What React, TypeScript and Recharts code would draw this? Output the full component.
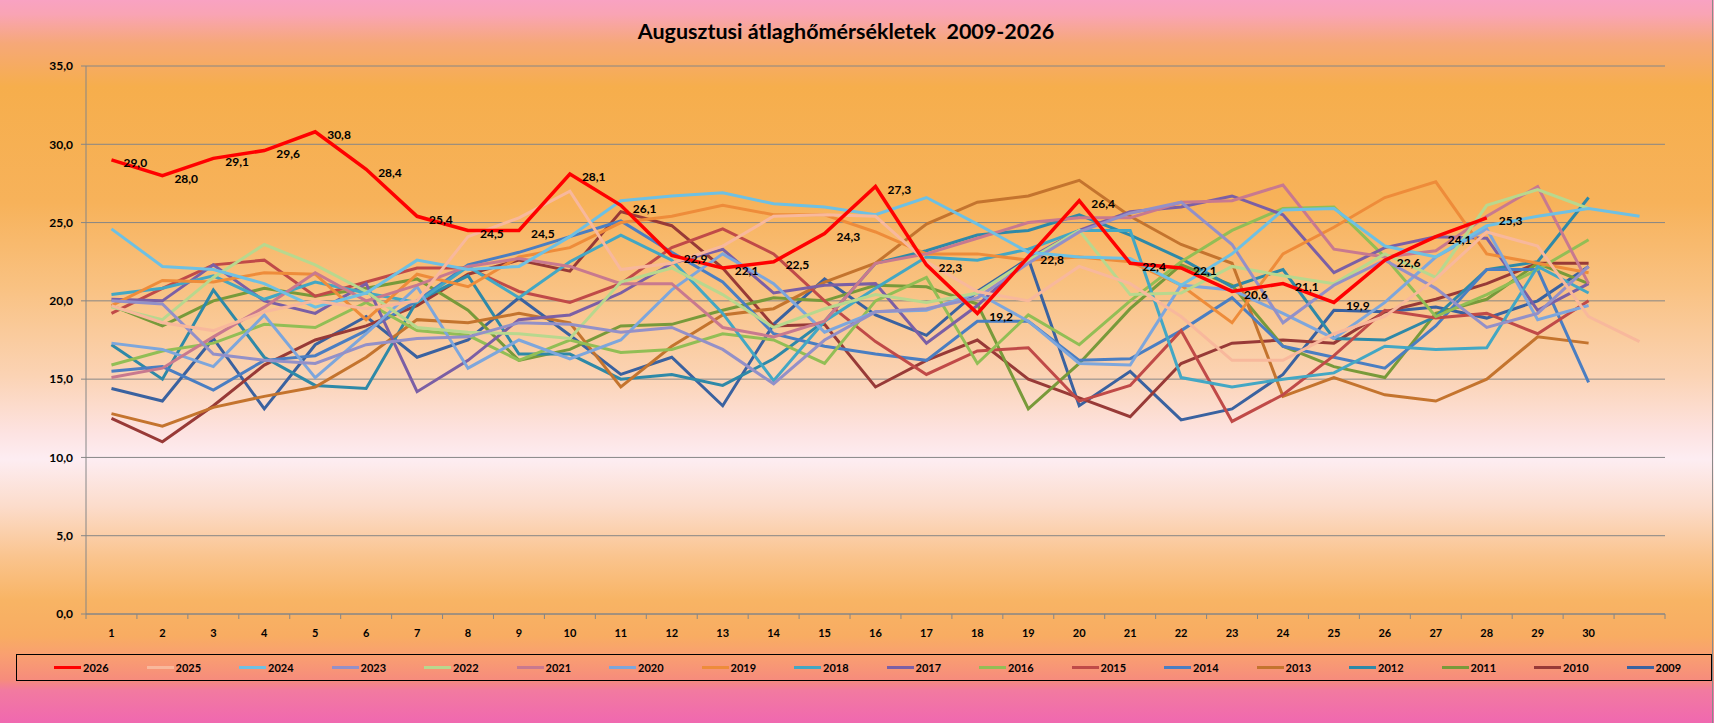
import { LineChart, Line, XAxis, YAxis, CartesianGrid, Legend, LabelList } from 'recharts';

// day labels (31st category has no label in the original)
const days = ['1', '2', '3', '4', '5', '6', '7', '8', '9', '10', '11', '12', '13', '14', '15', '16', '17', '18', '19', '20', '21', '22', '23', '24', '25', '26', '27', '28', '29', '30', ''];
const yTicks = [0, 5, 10, 15, 20, 25, 30, 35];

const t2026 = [29.0, 28.0, 29.1, 29.6, 30.8, 28.4, 25.4, 24.5, 24.5, 28.1, 26.1, 22.9, 22.1, 22.5, 24.3, 27.3, 22.3, 19.2, 22.8, 26.4, 22.4, 22.1, 20.6, 21.1, 19.9, 22.6, 24.1, 25.3];
const t2025 = [19.7, 18.6, 18.1, 19.3, 20.0, 19.5, 20.0, 24.1, 25.3, 27.0, 22.0, 22.4, 23.5, 25.4, 25.5, 25.4, 22.5, 20.6, 20.0, 22.2, 21.1, 19.0, 16.2, 16.2, 17.9, 19.0, 21.4, 24.4, 23.5, 19.0, 17.4];
const t2024 = [24.6, 22.2, 22.0, 21.1, 19.6, 20.5, 22.6, 22.0, 22.2, 24.1, 26.4, 26.7, 26.9, 26.2, 26.0, 25.5, 26.6, 24.9, 23.1, 22.8, 22.7, 21.0, 23.0, 25.8, 25.9, 23.5, 22.8, 24.8, 25.4, 25.9, 25.4];
const t2023 = [20.0, 19.8, 16.6, 16.2, 16.0, 17.2, 17.6, 17.7, 18.6, 18.5, 18.0, 18.3, 16.9, 14.7, 17.5, 19.3, 19.5, 20.2, 22.4, 24.4, 25.6, 26.3, 23.6, 18.6, 21.0, 22.6, 20.8, 18.3, 19.2, 22.2];
const t2022 = [19.6, 18.8, 21.5, 23.6, 22.3, 20.6, 18.3, 18.0, 17.9, 17.6, 21.2, 22.1, 20.4, 18.3, 19.5, 20.4, 19.9, 20.5, 22.6, 24.5, 20.4, 20.5, 22.2, 21.6, 21.1, 23.0, 21.5, 26.1, 27.1, 25.9];
const t2021 = [15.1, 15.7, 17.7, 19.6, 21.8, 20.0, 21.0, 22.2, 22.7, 22.2, 21.1, 21.1, 18.3, 17.7, 18.7, 22.4, 23.0, 24.0, 25.0, 25.3, 25.3, 26.3, 26.4, 27.4, 23.3, 22.8, 23.2, 25.4, 27.3, 21.1];
const t2020 = [17.3, 16.9, 15.8, 19.1, 15.1, 17.9, 20.9, 15.7, 17.5, 16.3, 17.5, 20.7, 23.0, 21.1, 18.0, 19.3, 19.4, 20.5, 18.7, 16.0, 15.9, 21.0, 20.7, 19.2, 17.6, 19.9, 22.8, 24.6, 18.8, 19.7];
const t2019 = [19.7, 21.3, 21.2, 21.8, 21.7, 18.8, 21.7, 20.9, 22.8, 23.4, 25.0, 25.4, 26.1, 25.5, 25.5, 24.4, 23.0, 23.0, 22.6, 22.8, 22.5, 21.0, 18.6, 23.0, 24.7, 26.6, 27.6, 23.0, 22.4, 21.8];
const t2018 = [20.4, 20.8, 21.6, 20.1, 21.2, 20.5, 19.9, 22.2, 20.2, 22.5, 24.2, 22.6, 19.2, 14.9, 18.7, 20.8, 22.8, 22.6, 23.3, 24.5, 24.5, 15.1, 14.5, 15.0, 15.4, 17.1, 16.9, 17.0, 22.2, 20.5];
const t2017 = [20.1, 20.0, 22.3, 20.0, 19.2, 21.1, 14.2, 16.2, 18.8, 19.1, 20.5, 22.4, 23.3, 20.5, 21.0, 21.1, 17.3, 19.7, 22.7, 24.5, 25.7, 26.0, 26.7, 25.5, 21.8, 23.4, 24.1, 24.0, 19.4, 21.1];
const t2016 = [15.9, 16.8, 17.3, 18.5, 18.3, 19.9, 18.1, 17.8, 16.2, 17.5, 16.7, 16.9, 17.9, 17.5, 16.0, 20.0, 21.5, 16.0, 19.1, 17.2, 20.0, 22.5, 24.5, 25.9, 26.0, 22.8, 19.0, 20.4, 22.0, 23.9];
const t2015 = [19.2, 20.8, 22.3, 22.6, 20.3, 21.2, 22.1, 22.1, 20.6, 19.9, 21.1, 23.4, 24.6, 23.0, 20.0, 17.4, 15.3, 16.8, 17.0, 13.6, 14.6, 18.1, 12.3, 14.0, 16.5, 19.4, 18.9, 19.2, 17.9, 20.0];
const t2014 = [15.5, 15.8, 14.3, 16.2, 16.5, 18.1, 20.0, 22.3, 23.1, 24.1, 25.1, 23.1, 21.2, 17.9, 17.1, 16.6, 16.2, 18.7, 18.7, 16.2, 16.3, 18.1, 20.2, 17.1, 16.4, 15.7, 18.4, 22.0, 22.0, 14.8];
const t2013 = [12.8, 12.0, 13.2, 13.9, 14.5, 16.4, 18.8, 18.6, 19.2, 18.6, 14.5, 17.1, 19.1, 19.5, 21.2, 22.4, 24.9, 26.3, 26.7, 27.7, 25.4, 23.6, 22.4, 13.9, 15.1, 14.0, 13.6, 15.0, 17.7, 17.3];
const t2012 = [17.2, 15.0, 20.7, 16.4, 14.6, 14.4, 20.0, 21.6, 16.6, 16.6, 15.0, 15.3, 14.6, 16.3, 18.7, 22.4, 23.2, 24.2, 24.5, 25.5, 24.2, 22.7, 20.9, 22.0, 17.6, 17.5, 19.0, 22.0, 22.5, 26.6];
const t2011 = [19.7, 18.4, 20.0, 20.8, 20.3, 20.8, 21.4, 19.4, 16.2, 16.9, 18.4, 18.5, 19.4, 20.2, 20.0, 21.0, 20.9, 19.8, 13.1, 16.0, 19.5, 22.3, 21.0, 17.1, 15.8, 15.1, 19.2, 20.1, 22.4, 21.1];
const t2010 = [12.5, 11.0, 13.3, 15.9, 17.5, 18.4, 19.7, 21.7, 22.6, 21.9, 25.7, 24.8, 22.1, 18.4, 18.5, 14.5, 16.2, 17.5, 15.0, 13.8, 12.6, 16.0, 17.3, 17.5, 17.3, 19.3, 20.1, 21.1, 22.4, 22.4];
const t2009 = [14.4, 13.6, 17.6, 13.1, 17.2, 19.0, 16.4, 17.5, 20.2, 17.8, 15.3, 16.4, 13.3, 18.5, 21.4, 19.1, 17.8, 20.6, 22.7, 13.3, 15.5, 12.4, 13.1, 15.3, 19.4, 19.3, 19.6, 18.9, 20.0, 22.2];

// legend order (newest first)
const series = [
  { year: '2026', values: t2026, color: '#FF0000' },
  { year: '2025', values: t2025, color: '#F8B89C' },
  { year: '2024', values: t2024, color: '#6EC0E3' },
  { year: '2023', values: t2023, color: '#9390C8' },
  { year: '2022', values: t2022, color: '#B8D88E' },
  { year: '2021', values: t2021, color: '#C8798F' },
  { year: '2020', values: t2020, color: '#7DA6DC' },
  { year: '2019', values: t2019, color: '#EE8C3A' },
  { year: '2018', values: t2018, color: '#43A7C4' },
  { year: '2017', values: t2017, color: '#7B5FA5' },
  { year: '2016', values: t2016, color: '#92BE55' },
  { year: '2015', values: t2015, color: '#C04A48' },
  { year: '2014', values: t2014, color: '#4A7EC2' },
  { year: '2013', values: t2013, color: '#C4742E' },
  { year: '2012', values: t2012, color: '#2E89A8' },
  { year: '2011', values: t2011, color: '#789A3A' },
  { year: '2010', values: t2010, color: '#983A37' },
  { year: '2009', values: t2009, color: '#3A62A0' },
];

const data = days.map((day, i) => {
  const row: Record<string, any> = { day };
  series.forEach((s) => {
    row[s.year] = s.values[i] ?? null;
  });
  return row;
});

const W = 1714;
const H = 723;
const M = { top: 66, right: 49, left: 0, bottom: 79 };
const Y_AXIS_W = 86;
const BAND = (W - M.right - Y_AXIS_W) / days.length;
const FONT = "Lato, 'Open Sans', sans-serif";

const fmt = (v: any) => (v == null ? '' : Number(v).toFixed(1).replace('.', ','));

function DayTick(props: any) {
  const { x, y, payload, index } = props;
  return (
    <g>
      <line x1={x - BAND / 2} y1={y} x2={x - BAND / 2} y2={y + 5} stroke="#868686" />
      {index === days.length - 1 && (
        <line x1={x + BAND / 2} y1={y} x2={x + BAND / 2} y2={y + 5} stroke="#868686" />
      )}
      <text x={x} y={y + 23} textAnchor="middle" fontSize={11} fontWeight="bold" fill="#000">
        {payload.value}
      </text>
    </g>
  );
}

function renderLegend(props: any) {
  const items = [...(props.payload || [])].reverse();
  return (
    <div
      style={{
        display: 'flex',
        alignItems: 'center',
        height: '100%',
        paddingLeft: 37,
        boxSizing: 'border-box',
        border: '1px solid #000',
        fontFamily: FONT,
      }}
    >
      {items.map((it: any) => (
        <div key={it.value} style={{ width: 92.5, display: 'flex', alignItems: 'center', flexShrink: 0 }}>
          <span style={{ display: 'inline-block', width: 27, height: 3, background: it.color }} />
          <span style={{ fontSize: 11, fontWeight: 'bold', color: '#000', marginLeft: 2 }}>{it.value}</span>
        </div>
      ))}
    </div>
  );
}

export default function App() {
  return (
    <div
      style={{
        position: 'absolute',
        left: 0,
        top: 0,
        width: W,
        height: H,
        fontFamily: FONT,
        background:
          'linear-gradient(to bottom, #F9A2C2 0%, #F9A4B4 2%, #F6A878 6%, #F6AE4C 12%, #F7B25A 28%, #F9C283 40%, #FBD3B4 52%, #FDE3E2 60%, #FDEDF2 63.5%, #FCDCCB 70%, #FAC48E 77%, #F8B464 83%, #F8AC62 88%, #F9A070 90.5%, #F68C7C 94%, #F27AA0 95.5%, #F068B0 100%)',
        overflow: 'hidden',
      }}
    >
      <div
        style={{
          position: 'absolute',
          top: 18,
          left: 846 - 400,
          width: 800,
          textAlign: 'center',
          fontSize: 21.5,
          fontWeight: 'bold',
          color: '#000',
          whiteSpace: 'pre',
        }}
      >
        {'Augusztusi átlaghőmérsékletek  2009-2026'}
      </div>
      <div style={{ position: 'absolute', right: 1, top: 0, width: 1, height: H, background: '#8A8A8A' }} />
      <LineChart width={W} height={H} data={data} margin={M}>
        <CartesianGrid vertical={false} stroke="#868686" strokeWidth={1} />
        <XAxis
          dataKey="day"
          interval={0}
          tickLine={false}
          tickSize={0}
          tickMargin={0}
          height={30}
          padding={{ left: BAND / 2, right: BAND / 2 }}
          stroke="#868686"
          tick={<DayTick />}
        />
        <YAxis
          domain={[0, 35]}
          ticks={yTicks}
          interval={0}
          width={Y_AXIS_W}
          tickSize={5}
          tickMargin={8}
          stroke="#868686"
          tickFormatter={fmt}
          tick={{ fontSize: 12, fontWeight: 'bold', fill: '#000' }}
        />
        <Legend
          layout="horizontal"
          verticalAlign="middle"
          align="center"
          wrapperStyle={{ position: 'absolute', left: 16, top: 654, width: 1696, height: 27 }}
          content={renderLegend}
        />
        {[...series].reverse().map((s) => (
          <Line
            key={s.year}
            type="linear"
            dataKey={s.year}
            name={s.year}
            stroke={s.color}
            strokeWidth={s.year === '2026' ? 3.5 : 3}
            dot={false}
            activeDot={false}
            isAnimationActive={false}
          >
            {s.year === '2026' && (
              <LabelList
                dataKey="2026"
                position="right"
                offset={12}
                dy={3}
                formatter={fmt}
                style={{ fontSize: 12, fontWeight: 'bold', fill: '#000' }}
              />
            )}
          </Line>
        ))}
      </LineChart>
    </div>
  );
}
